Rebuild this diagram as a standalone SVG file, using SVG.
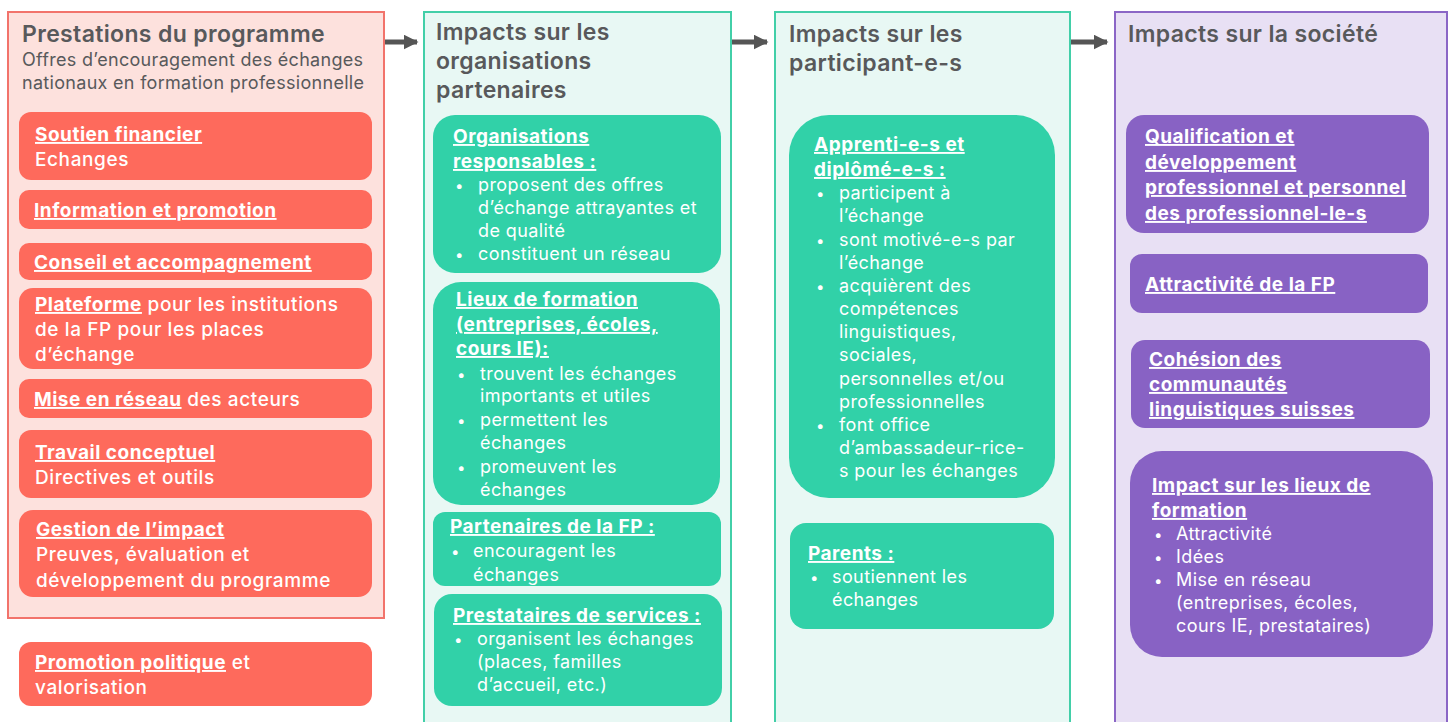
<svg xmlns="http://www.w3.org/2000/svg" width="1452" height="722" viewBox="0 0 1452 722">
<style>
text{font-family:"Inter","Liberation Sans",sans-serif;}
.title{font-size:23px;font-weight:600;fill:#58595b;letter-spacing:0.35px;}
.sub{font-size:18px;fill:#58595b;letter-spacing:0.3px;}
.w{fill:#ffffff;font-size:19px;letter-spacing:0.5px;}
.r{font-weight:500;letter-spacing:0.6px;}
.h{font-weight:700;text-decoration:underline;letter-spacing:0.5px;}
.b{font-size:18px;letter-spacing:0.4px;}
.dot{font-size:15px;}
.col1{fill:#fde1dd;stroke:#f2736b;stroke-width:2;}
.col2{fill:#e8f8f4;stroke:#42cfa8;stroke-width:2;}
.col4{fill:#e8e0f4;stroke:#8b66c6;stroke-width:2;}
.red{fill:#fe6a5c;}
.teal{fill:#31d1a8;}
.pur{fill:#8862c4;}
.arr{stroke:#555555;stroke-width:5;fill:none;marker-end:url(#ah);}
</style>
<defs>
<marker id="ah" viewBox="0 0 10 10" refX="9" refY="5" markerWidth="3" markerHeight="3" markerUnits="strokeWidth" orient="auto">
<path d="M0,0 L10,5 L0,10 z" fill="#555555"/>
</marker>
</defs>

<g id="connectors">
<line class="arr" x1="385" y1="42" x2="417" y2="42"/>
<line class="arr" x1="732" y1="42" x2="767" y2="42"/>
<line class="arr" x1="1071" y1="42" x2="1107" y2="42"/>
</g>

<g id="col-prestations">
<rect class="col1" x="8" y="12" width="376" height="606"/>
<text class="title" x="22" y="42">Prestations du programme</text>
<text class="sub" x="22" y="66">Offres d’encouragement des échanges</text>
<text class="sub" x="22" y="89">nationaux en formation professionnelle</text>
</g>
<g id="p-soutien">
<rect class="red" x="19" y="112" width="353" height="68" rx="12"/>
<text class="w" x="35" y="141"><tspan class="h">Soutien financier</tspan></text>
<text class="w r" x="35" y="166">Echanges</text>
</g>
<g id="p-info">
<rect class="red" x="19" y="190" width="353" height="39" rx="10"/>
<text class="w" x="34" y="217"><tspan class="h">Information et promotion</tspan></text>
</g>
<g id="p-conseil">
<rect class="red" x="19" y="243" width="353" height="37" rx="10"/>
<text class="w" x="34" y="269"><tspan class="h">Conseil et accompagnement</tspan></text>
</g>
<g id="p-plateforme">
<rect class="red" x="19" y="288" width="353" height="81" rx="14"/>
<text class="w r" x="35" y="311"><tspan class="h">Plateforme</tspan> pour les institutions</text>
<text class="w r" x="35" y="336">de la FP pour les places</text>
<text class="w r" x="35" y="361">d’échange</text>
</g>
<g id="p-reseau">
<rect class="red" x="19" y="379" width="353" height="39" rx="10"/>
<text class="w r" x="34" y="406"><tspan class="h">Mise en réseau</tspan> des acteurs</text>
</g>
<g id="p-travail">
<rect class="red" x="19" y="430" width="353" height="68" rx="12"/>
<text class="w" x="35" y="459"><tspan class="h">Travail conceptuel</tspan></text>
<text class="w r" x="35" y="484">Directives et outils</text>
</g>
<g id="p-gestion">
<rect class="red" x="19" y="510" width="353" height="87" rx="14"/>
<text class="w" x="36" y="536"><tspan class="h">Gestion de l’impact</tspan></text>
<text class="w r" x="36" y="561">Preuves, évaluation et</text>
<text class="w r" x="36" y="587">développement du programme</text>
</g>
<g id="p-promotion">
<rect class="red" x="19" y="642" width="353" height="64" rx="12"/>
<text class="w r" x="35" y="669"><tspan class="h">Promotion politique</tspan> et</text>
<text class="w r" x="35" y="694">valorisation</text>
</g>

<g id="col-organisations">
<rect class="col2" x="424" y="12" width="307" height="720"/>
<text class="title" x="436" y="40">Impacts sur les</text>
<text class="title" x="436" y="69">organisations</text>
<text class="title" x="436" y="98">partenaires</text>
</g>
<g id="o-responsables">
<rect class="teal" x="433" y="115" width="288" height="158" rx="22"/>
<text class="w" x="453" y="143"><tspan class="h">Organisations</tspan></text>
<text class="w" x="453" y="168"><tspan class="h">responsables :</tspan></text>
<text class="w dot" x="455" y="191">•</text>
<text class="w b" x="478" y="191">proposent des offres</text>
<text class="w b" x="478" y="214">d’échange attrayantes et</text>
<text class="w b" x="478" y="237">de qualité</text>
<text class="w dot" x="455" y="260">•</text>
<text class="w b" x="478" y="260">constituent un réseau</text>
</g>
<g id="o-lieux">
<rect class="teal" x="433" y="282" width="287" height="223" rx="28"/>
<text class="w" x="456" y="306"><tspan class="h">Lieux de formation</tspan></text>
<text class="w" x="456" y="331"><tspan class="h">(entreprises, écoles,</tspan></text>
<text class="w" x="456" y="355"><tspan class="h">cours IE):</tspan></text>
<text class="w dot" x="457" y="380">•</text>
<text class="w b" x="480" y="380">trouvent les échanges</text>
<text class="w b" x="480" y="402">importants et utiles</text>
<text class="w dot" x="457" y="426">•</text>
<text class="w b" x="480" y="426">permettent les</text>
<text class="w b" x="480" y="449">échanges</text>
<text class="w dot" x="457" y="473">•</text>
<text class="w b" x="480" y="473">promeuvent les</text>
<text class="w b" x="480" y="496">échanges</text>
</g>
<g id="o-partenaires">
<rect class="teal" x="433" y="512" width="288" height="74" rx="12"/>
<text class="w" x="450" y="533"><tspan class="h">Partenaires de la FP :</tspan></text>
<text class="w dot" x="451" y="557">•</text>
<text class="w b" x="473" y="557">encouragent les</text>
<text class="w b" x="473" y="581">échanges</text>
</g>
<g id="o-prestataires">
<rect class="teal" x="434" y="594" width="288" height="112" rx="18"/>
<text class="w" x="453" y="622"><tspan class="h">Prestataires de services :</tspan></text>
<text class="w dot" x="454" y="645">•</text>
<text class="w b" x="477" y="645">organisent les échanges</text>
<text class="w b" x="477" y="668">(places, familles</text>
<text class="w b" x="477" y="691">d’accueil, etc.)</text>
</g>

<g id="col-participants">
<rect class="col2" x="775" y="12" width="295" height="720"/>
<text class="title" x="789" y="42">Impacts sur les</text>
<text class="title" x="789" y="71">participant-e-s</text>
</g>
<g id="pa-apprentis">
<rect class="teal" x="789" y="115" width="266" height="383" rx="40"/>
<text class="w" x="814" y="151"><tspan class="h">Apprenti-e-s et</tspan></text>
<text class="w" x="814" y="176"><tspan class="h">diplômé-e-s :</tspan></text>
<text class="w dot" x="816" y="199">•</text>
<text class="w b" x="839" y="199">participent à</text>
<text class="w b" x="839" y="222">l’échange</text>
<text class="w dot" x="816" y="246">•</text>
<text class="w b" x="839" y="246">sont motivé-e-s par</text>
<text class="w b" x="839" y="269">l’échange</text>
<text class="w dot" x="816" y="292">•</text>
<text class="w b" x="839" y="292">acquièrent des</text>
<text class="w b" x="839" y="315">compétences</text>
<text class="w b" x="839" y="338">linguistiques,</text>
<text class="w b" x="839" y="361">sociales,</text>
<text class="w b" x="839" y="385">personnelles et/ou</text>
<text class="w b" x="839" y="408">professionnelles</text>
<text class="w dot" x="816" y="431">•</text>
<text class="w b" x="839" y="431">font office</text>
<text class="w b" x="839" y="454">d’ambassadeur-rice-</text>
<text class="w b" x="839" y="477">s pour les échanges</text>
</g>
<g id="pa-parents">
<rect class="teal" x="790" y="523" width="264" height="106" rx="16"/>
<text class="w" x="808" y="560"><tspan class="h">Parents :</tspan></text>
<text class="w dot" x="810" y="583">•</text>
<text class="w b" x="832" y="583">soutiennent les</text>
<text class="w b" x="832" y="606">échanges</text>
</g>

<g id="col-societe">
<rect class="col4" x="1115" y="12" width="332" height="720"/>
<text class="title" x="1128" y="42">Impacts sur la société</text>
</g>
<g id="s-qualification">
<rect class="pur" x="1126" y="115" width="303" height="118" rx="18"/>
<text class="w" x="1145" y="143"><tspan class="h">Qualification et</tspan></text>
<text class="w" x="1145" y="169"><tspan class="h">développement</tspan></text>
<text class="w" x="1145" y="194"><tspan class="h">professionnel et personnel</tspan></text>
<text class="w" x="1145" y="220"><tspan class="h">des professionnel-le-s</tspan></text>
</g>
<g id="s-attractivite">
<rect class="pur" x="1130" y="254" width="298" height="59" rx="12"/>
<text class="w" x="1145" y="291"><tspan class="h">Attractivité de la FP</tspan></text>
</g>
<g id="s-cohesion">
<rect class="pur" x="1131" y="340" width="299" height="88" rx="14"/>
<text class="w" x="1149" y="366"><tspan class="h">Cohésion des</tspan></text>
<text class="w" x="1149" y="391"><tspan class="h">communautés</tspan></text>
<text class="w" x="1149" y="416"><tspan class="h">linguistiques suisses</tspan></text>
</g>
<g id="s-lieux">
<rect class="pur" x="1130" y="451" width="303" height="206" rx="32"/>
<text class="w" x="1152" y="492"><tspan class="h">Impact sur les lieux de</tspan></text>
<text class="w" x="1152" y="517"><tspan class="h">formation</tspan></text>
<text class="w dot" x="1154" y="540">•</text>
<text class="w b" x="1176" y="540">Attractivité</text>
<text class="w dot" x="1154" y="563">•</text>
<text class="w b" x="1176" y="563">Idées</text>
<text class="w dot" x="1154" y="586">•</text>
<text class="w b" x="1176" y="586">Mise en réseau</text>
<text class="w b" x="1176" y="609">(entreprises, écoles,</text>
<text class="w b" x="1176" y="632">cours IE, prestataires)</text>
</g>
</svg>
